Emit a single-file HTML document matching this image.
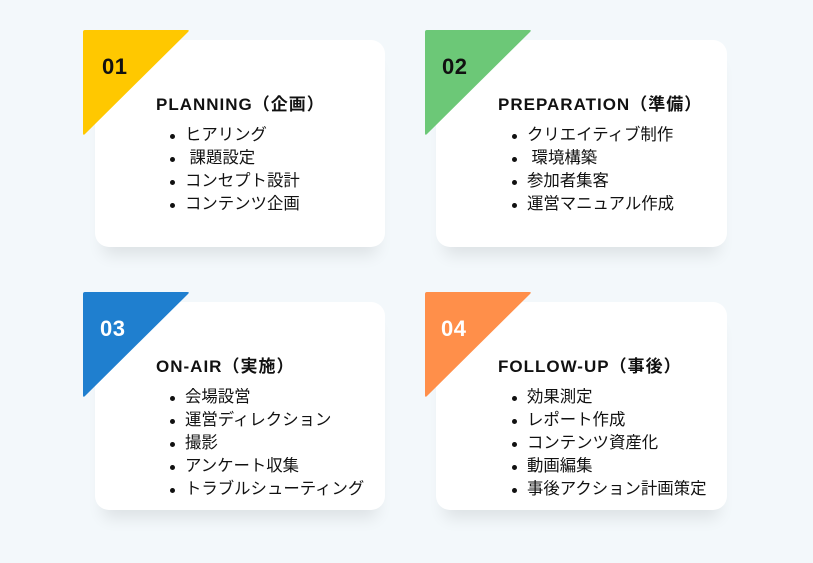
<!DOCTYPE html>
<html><head><meta charset="utf-8"><style>
body{margin:0;width:813px;height:563px;background:#f3f8fb;position:relative;overflow:hidden;font-family:"Liberation Sans","Noto Sans CJK JP",sans-serif;}
.card{position:absolute;width:290px;height:207px;background:#fff;border-radius:14px;box-shadow:0 16px 16px -8px rgba(0,0,0,.09);}
.tri{position:absolute;width:107px;height:106px;}
.num{position:absolute;font-weight:bold;font-size:22px;letter-spacing:0.5px;}
.title{position:absolute;font-weight:bold;font-size:17px;line-height:20px;color:#111;white-space:nowrap;letter-spacing:1px;}
ul{position:absolute;margin:0;padding:0;list-style:none;font-size:16.4px;line-height:23px;color:#111;}
li{position:relative;padding-left:15px;white-space:nowrap;}
li:before{content:"";position:absolute;left:0;top:10px;width:5px;height:5px;border-radius:50%;background:#111;}
</style></head><body>

<div class="card" style="left:95px;top:40px"></div>
<svg class="tri" style="left:83px;top:30px" viewBox="0 0 107 106"><path d="M2 0 H104 Q107 0 105 2 L2 104 Q0 106 0 103 V2 Q0 0 2 0Z" fill="#ffc800"/></svg>
<div class="num" style="left:102px;top:54px;color:#111">01</div>
<div class="title" style="left:156px;top:95px">PLANNING（企画）</div>
<ul style="left:170px;top:124px"><li>ヒアリング</li><li>&nbsp;課題設定</li><li>コンセプト設計</li><li>コンテンツ企画</li></ul>

<div class="card" style="left:436px;top:40px;width:291px"></div>
<svg class="tri" style="left:425px;top:30px" viewBox="0 0 107 106"><path d="M2 0 H104 Q107 0 105 2 L2 104 Q0 106 0 103 V2 Q0 0 2 0Z" fill="#6cc877"/></svg>
<div class="num" style="left:442px;top:54px;color:#111">02</div>
<div class="title" style="left:498px;top:95px">PREPARATION（準備）</div>
<ul style="left:512px;top:124px"><li>クリエイティブ制作</li><li>&nbsp;環境構築</li><li>参加者集客</li><li>運営マニュアル作成</li></ul>

<div class="card" style="left:95px;top:302px;height:208px"></div>
<svg class="tri" style="left:83px;top:292px" viewBox="0 0 107 106"><path d="M2 0 H104 Q107 0 105 2 L2 104 Q0 106 0 103 V2 Q0 0 2 0Z" fill="#1f7fcf"/></svg>
<div class="num" style="left:100px;top:316px;color:#fff">03</div>
<div class="title" style="left:156px;top:357px">ON-AIR（実施）</div>
<ul style="left:170px;top:386px"><li>会場設営</li><li>運営ディレクション</li><li>撮影</li><li>アンケート収集</li><li>トラブルシューティング</li></ul>

<div class="card" style="left:436px;top:302px;width:291px;height:208px"></div>
<svg class="tri" style="left:425px;top:292px" viewBox="0 0 107 106"><path d="M2 0 H104 Q107 0 105 2 L2 104 Q0 106 0 103 V2 Q0 0 2 0Z" fill="#ff8f4a"/></svg>
<div class="num" style="left:441px;top:316px;color:#fff">04</div>
<div class="title" style="left:498px;top:357px">FOLLOW-UP（事後）</div>
<ul style="left:512px;top:386px"><li>効果測定</li><li>レポート作成</li><li>コンテンツ資産化</li><li>動画編集</li><li>事後アクション計画策定</li></ul>

</body></html>
